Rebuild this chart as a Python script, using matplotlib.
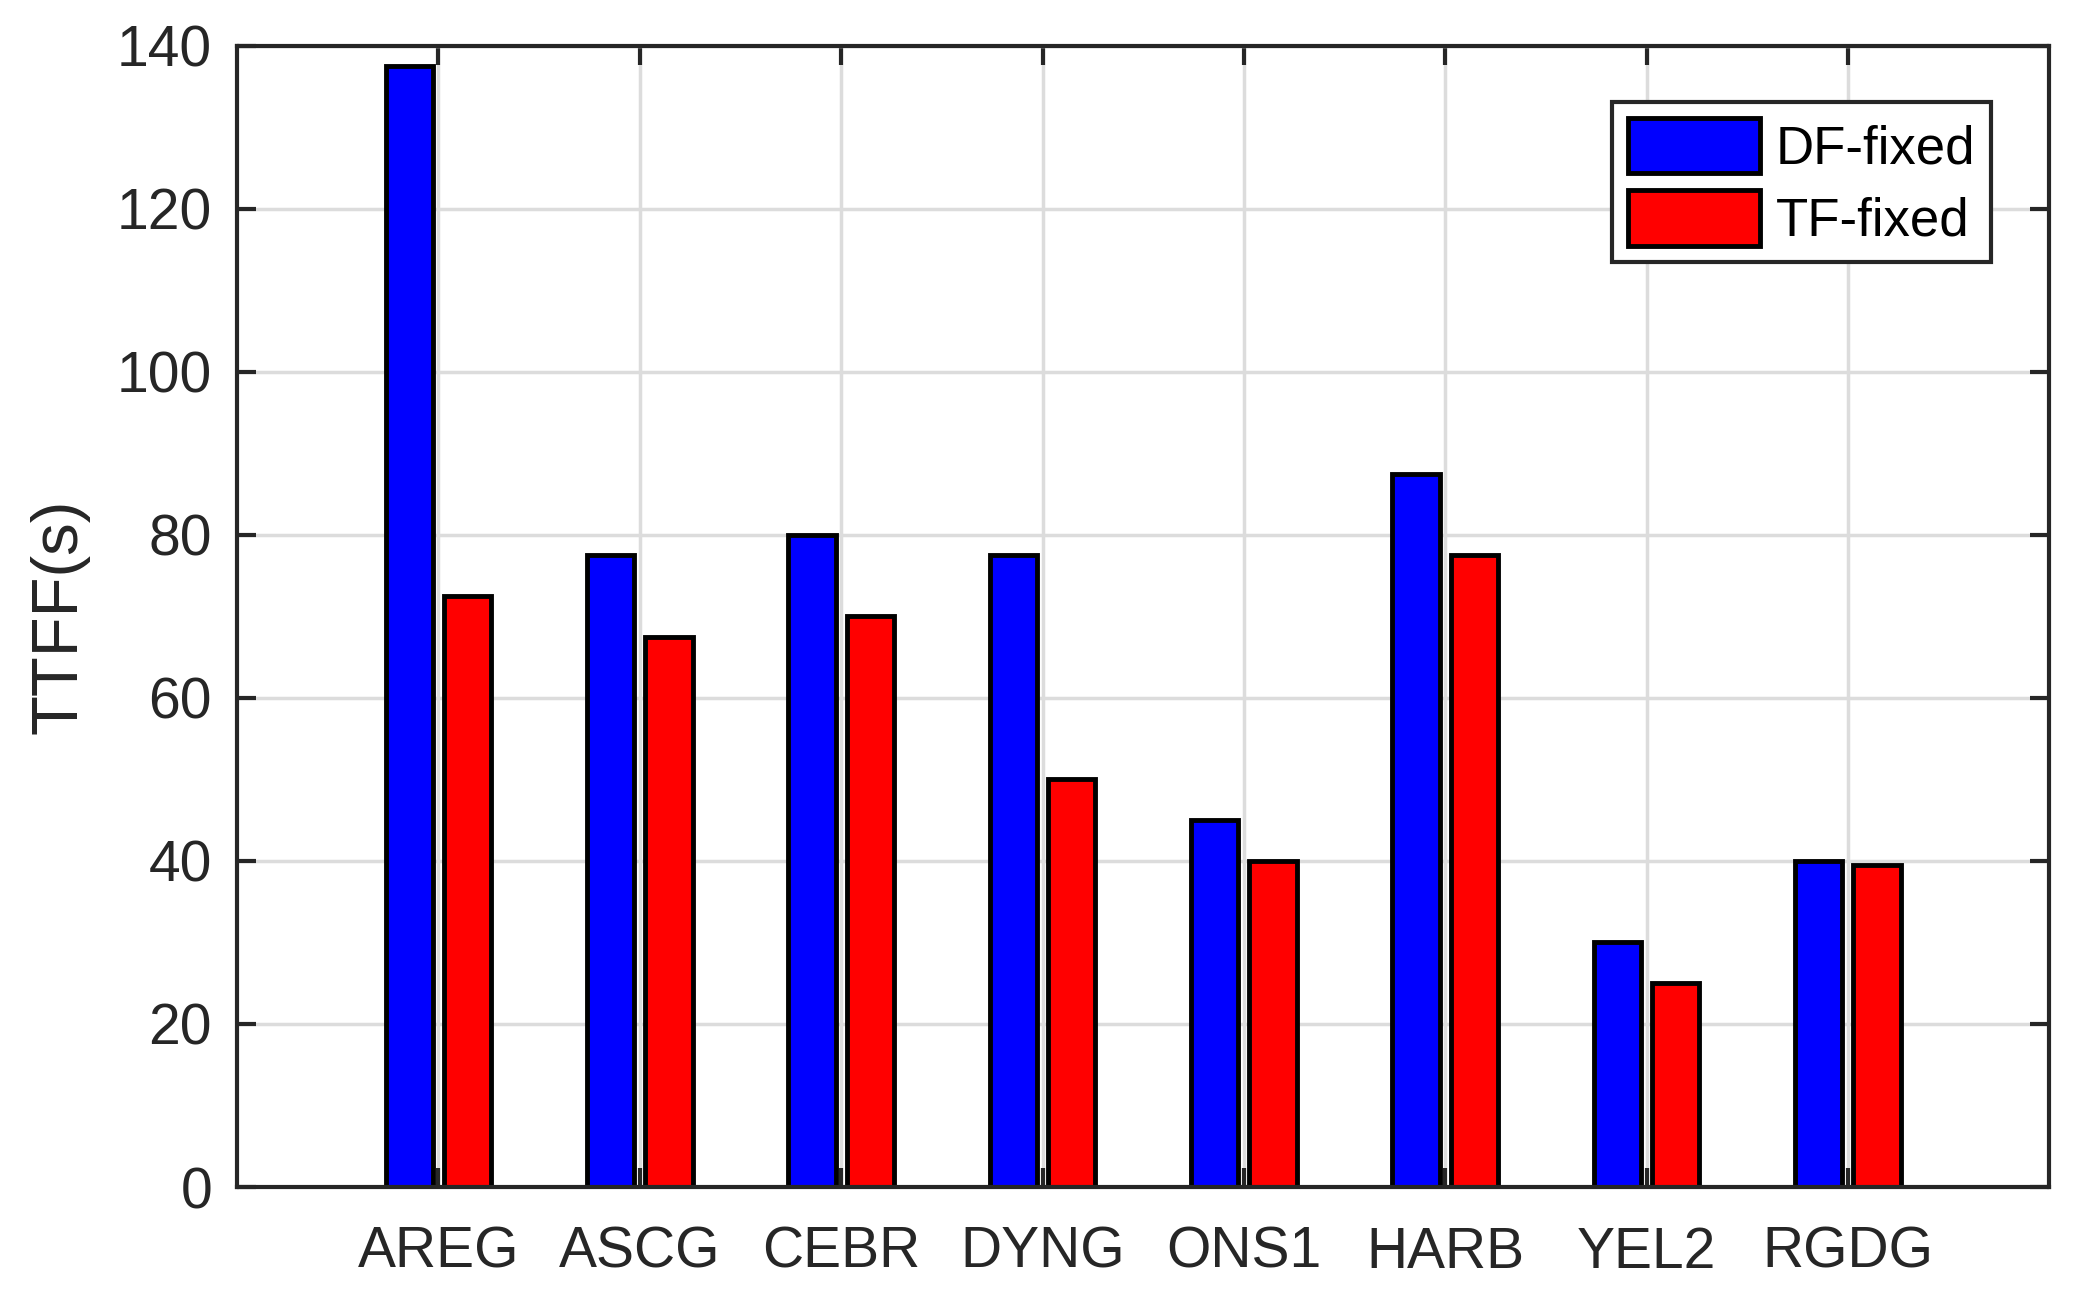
import numpy as np
import matplotlib.pyplot as plt

stations = ['AREG', 'ASCG', 'CEBR', 'DYNG', 'ONS1', 'HARB', 'YEL2', 'RGDG']
df_fixed = [137.5, 77.5, 80, 77.5, 45, 87.5, 30, 40]
tf_fixed = [72.5, 67.5, 70, 50, 40, 77.5, 25, 39.5]
yticks = [0, 20, 40, 60, 80, 100, 120, 140]

plt.rcParams['font.family'] = ['Liberation Sans', 'DejaVu Sans']

fig = plt.figure(figsize=(20.89, 13), dpi=100)
ax = fig.add_axes([0.1135, 0.0869, 0.8675, 0.8779])

x = np.arange(1, len(stations) + 1)
w = 0.235
ax.bar(x - 0.145, df_fixed, w, color='#0000ff', edgecolor='black', linewidth=3.5,
       label='DF-fixed', zorder=3)
ax.bar(x + 0.145, tf_fixed, w, color='#ff0000', edgecolor='black', linewidth=3.5,
       label='TF-fixed', zorder=3)

ax.set_xlim(0, 9)
ax.set_ylim(0, 140)
ax.set_xticks(x)
ax.set_xticklabels(stations)
ax.set_yticks(yticks)
ax.grid(True, color='#dcdcdc', linewidth=2.5, zorder=0)
ax.set_axisbelow(True)

ax.tick_params(direction='in', length=14, width=3, top=True, right=True,
               labelsize=41, colors='#262626')
ax.tick_params(axis='x', pad=28)
ax.tick_params(axis='y', pad=18)
for s in ax.spines.values():
    s.set_linewidth(3)
    s.set_color('#262626')
    s.set_zorder(4)

ax.set_ylabel('TTFF(s)', fontsize=47, color='#262626', labelpad=20)

leg = ax.legend(loc='upper right', bbox_to_anchor=(0.968, 0.951), borderaxespad=0,
                fontsize=38, handlelength=2.5, handleheight=1.25, handletextpad=0.3,
                labelspacing=0.3, borderpad=0.3, fancybox=False,
                edgecolor='#262626', framealpha=1)
leg.get_frame().set_linewidth(3)
for p in leg.get_patches():
    p.set_linewidth(3.5)

fig.savefig('out.png', dpi=100)
